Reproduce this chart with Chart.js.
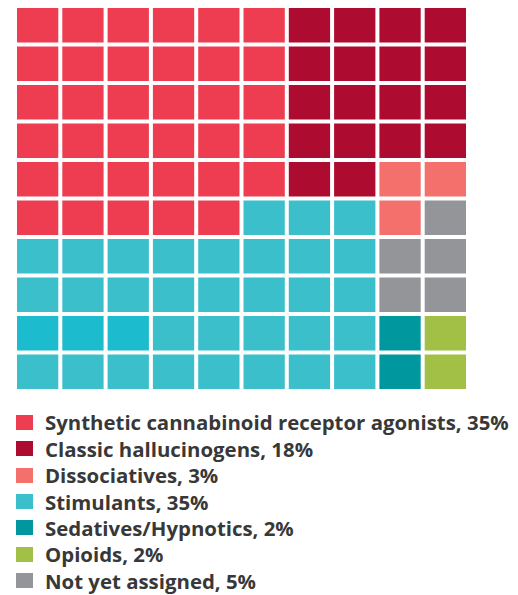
<!DOCTYPE html>
<html>
<head>
<meta charset="utf-8">
<script src="https://cdn.jsdelivr.net/npm/chart.js@4/dist/chart.umd.min.js"></script>
<style>
  html, body { margin: 0; padding: 0; background: #ffffff; }
  #wrap { position: relative; width: 518px; height: 595px; overflow: hidden; }
  #chartBox { position: absolute; left: 0; top: 0; width: 518px; height: 400px; }
  #legend { position: absolute; left: 16px; top: 409px; font-family: "Open Sans", sans-serif; font-weight: 700; font-size: 20.4px; color: #383838; }
  .item { display: flex; align-items: center; height: 26.45px; white-space: nowrap; }
  .sw { width: 17px; height: 15px; margin-right: 12px; flex: none; }
</style>
</head>
<body>
<div id="wrap">
  <div id="chartBox"><canvas id="c"></canvas></div>
  <div id="legend"></div>
</div>
<script>
// ---- data ----
const categories = [
  'Synthetic cannabinoid receptor agonists',
  'Classic hallucinogens',
  'Dissociatives',
  'Stimulants',
  'Sedatives/Hypnotics',
  'Opioids',
  'Not yet assigned'
];
const percentages = [35, 18, 3, 35, 2, 2, 5];
const colors = ['#EE3D51', '#AD0B2F', '#F3706C', '#3BBFCB', '#01979F', '#A2BF46', '#939598'];
// category index of every waffle cell, top row first
const gridRows = [
  [0, 0, 0, 0, 0, 0, 1, 1, 1, 1],
  [0, 0, 0, 0, 0, 0, 1, 1, 1, 1],
  [0, 0, 0, 0, 0, 0, 1, 1, 1, 1],
  [0, 0, 0, 0, 0, 0, 1, 1, 1, 1],
  [0, 0, 0, 0, 0, 0, 1, 1, 2, 2],
  [0, 0, 0, 0, 0, 3, 3, 3, 2, 6],
  [3, 3, 3, 3, 3, 3, 3, 3, 6, 6],
  [3, 3, 3, 3, 3, 3, 3, 3, 6, 6],
  [3, 3, 3, 3, 3, 3, 3, 3, 4, 5],
  [3, 3, 3, 3, 3, 3, 3, 3, 4, 5]
];
const columns = ['1', '2', '3', '4', '5', '6', '7', '8', '9', '10'];

// small shading quirk in the reference (a few brighter cyan cells)
const brightCells = { '8-0': '#1DBBCE', '8-1': '#1DBBCE', '8-2': '#1DBBCE' };

const datasets = gridRows.map((row, r) => ({
  label: 'row ' + (r + 1),
  data: row.map(() => 1),
  backgroundColor: (ctx) => brightCells[ctx.datasetIndex + '-' + ctx.dataIndex] || colors[gridRows[ctx.datasetIndex][ctx.dataIndex]],
  borderColor: '#ffffff',
  borderWidth: 2,
  borderSkipped: false,
  inflateAmount: 0,
  barPercentage: 1,
  categoryPercentage: 1,
  stack: 'waffle'
}));

new Chart(document.getElementById('c'), {
  type: 'bar',
  data: { labels: columns, datasets: datasets },
  options: {
    responsive: true,
    maintainAspectRatio: false,
    animation: false,
    layout: { padding: { left: 15, right: 50, top: 6, bottom: 9 } },
    plugins: { legend: { display: false }, tooltip: { enabled: false } },
    scales: {
      x: { stacked: true, display: false, offset: true, grid: { display: false } },
      y: { stacked: true, display: false, reverse: true, min: 0, max: gridRows.length, grid: { display: false } }
    }
  }
});

// legend from the category arrays
const legend = document.getElementById('legend');
categories.forEach((name, i) => {
  const it = document.createElement('div');
  it.className = 'item';
  const sw = document.createElement('span');
  sw.className = 'sw';
  sw.style.background = colors[i];
  const tx = document.createElement('span');
  tx.textContent = name + ', ' + percentages[i] + '%';
  it.appendChild(sw);
  it.appendChild(tx);
  legend.appendChild(it);
});
</script>
</body>
</html>
